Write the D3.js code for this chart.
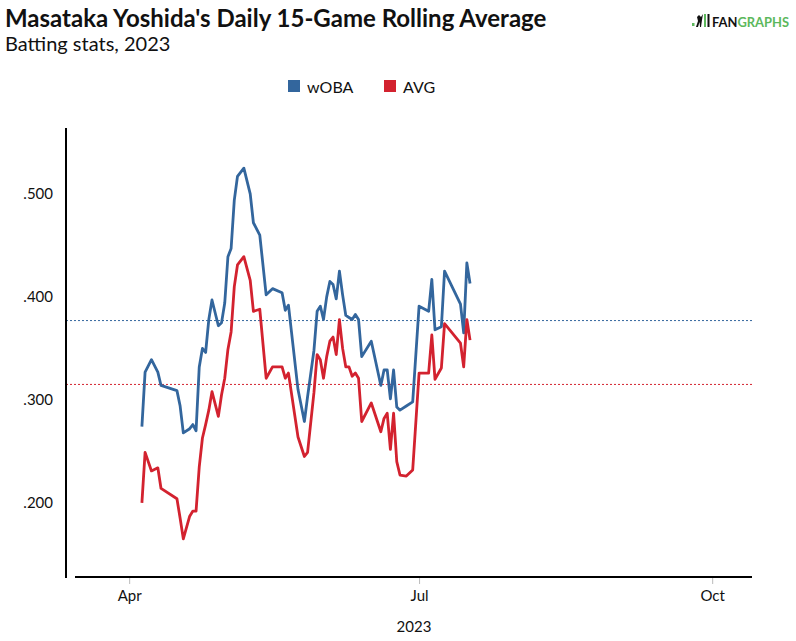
<!DOCTYPE html>
<html>
<head>
<meta charset="utf-8">
<script src="https://cdn.jsdelivr.net/npm/d3@7"></script>
<style>
  html, body { margin: 0; padding: 0; background: #fff; }
  svg { display: block; font-family: Lato, "Open Sans", sans-serif; }
</style>
</head>
<body>
<svg id="chart" width="796" height="641"></svg>
<script>
// ---- data ----
const dates = ["2023-04-05","2023-04-06","2023-04-08","2023-04-10","2023-04-11","2023-04-16","2023-04-17","2023-04-18","2023-04-20","2023-04-21",
"2023-04-22","2023-04-23","2023-04-24","2023-04-25","2023-04-26","2023-04-27","2023-04-29","2023-04-30","2023-05-01","2023-05-02",
"2023-05-03","2023-05-04","2023-05-05","2023-05-07","2023-05-09","2023-05-10","2023-05-12","2023-05-14","2023-05-16","2023-05-19",
"2023-05-20","2023-05-21","2023-05-24","2023-05-26","2023-05-27","2023-05-29","2023-05-30","2023-05-31","2023-06-01","2023-06-02",
"2023-06-03","2023-06-04","2023-06-05","2023-06-06","2023-06-07","2023-06-08","2023-06-09","2023-06-10","2023-06-11","2023-06-12",
"2023-06-13","2023-06-16","2023-06-19","2023-06-20","2023-06-21","2023-06-22","2023-06-23","2023-06-24","2023-06-25","2023-06-27",
"2023-06-29","2023-07-01","2023-07-04","2023-07-05","2023-07-06","2023-07-08","2023-07-09","2023-07-14","2023-07-15","2023-07-16","2023-07-17"];
const woba = [.274,.327,.339,.327,.314,.309,.294,.268,.272,.276,
.270,.332,.350,.346,.378,.397,.372,.375,.394,.439,
.447,.494,.517,.525,.500,.472,.460,.402,.408,.404,
.387,.392,.310,.279,.303,.348,.386,.391,.378,.400,
.415,.412,.398,.425,.402,.382,.380,.378,.383,.378,
.342,.357,.314,.329,.329,.301,.329,.293,.290,.294,
.298,.391,.386,.417,.368,.371,.425,.393,.365,.433,.413];
const avg = [.200,.249,.231,.234,.214,.204,.185,.165,.187,.192,
.192,.235,.263,.276,.290,.308,.284,.305,.321,.349,
.366,.410,.431,.439,.416,.386,.388,.321,.332,.332,
.321,.326,.264,.245,.249,.307,.344,.339,.321,.342,
.357,.361,.344,.378,.350,.332,.332,.323,.326,.321,
.279,.297,.269,.282,.287,.252,.287,.240,.227,.226,
.232,.326,.326,.363,.320,.331,.374,.355,.332,.378,.358];
const seasonWoba = 0.377;
const seasonAvg = 0.315;
const seriesNames = ["wOBA","AVG"];
const seriesColors = ["#33669d","#d3222f"];
const yTicks = [0.2, 0.3, 0.4, 0.5];
const xTickDates = ["2023-04-01","2023-07-01","2023-10-01"];

// ---- chart ----
const svg = d3.select("#chart");
const parse = d3.utcParse("%Y-%m-%d");

const x = d3.scaleUtc()
  .domain([new Date(Date.UTC(2023,2,15)), new Date(Date.UTC(2023,9,13,12))])
  .range([75, 752]);
const y = d3.scaleLinear().domain([0.128, 0.564]).range([577, 128]);

svg.append("rect").attr("width",796).attr("height",641).attr("fill","#fff");

// title
svg.append("text").attr("x",5).attr("y",27)
  .attr("font-size",24).attr("font-weight",700).attr("fill","#111")
  .text("Masataka Yoshida's Daily 15-Game Rolling Average");
svg.append("text").attr("x",5).attr("y",51)
  .attr("font-size",20).attr("fill","#111")
  .text("Batting stats, 2023");

// logo
const logo = svg.append("g").attr("transform","translate(692,13)");
logo.append("rect").attr("x",0).attr("y",10).attr("width",2.5).attr("height",3).attr("fill","#5cb85c");
logo.append("path").attr("d","M4,14 L6,8 L5,4 L7,2 L9,4 L11,1 L10,7 L9,14 L8,14 L7.5,9 L6,14 Z").attr("fill","#111");
logo.append("rect").attr("x",12).attr("y",1).attr("width",2).attr("height",13).attr("fill","#5cb85c");
logo.append("rect").attr("x",15.5).attr("y",1).attr("width",2).attr("height",13).attr("fill","#111");
const lt = logo.append("text").attr("x",20).attr("y",14).attr("font-size",14).attr("font-weight",700)
  .attr("textLength",77).attr("lengthAdjust","spacingAndGlyphs");
lt.append("tspan").attr("fill","#111").text("FAN");
lt.append("tspan").attr("fill","#5cb85c").text("GRAPHS");

// legend
const legX = [288, 384];
seriesNames.forEach((n,i) => {
  svg.append("rect").attr("x",legX[i]).attr("y",80).attr("width",12).attr("height",12).attr("fill",seriesColors[i]);
  svg.append("text").attr("x",legX[i]+19).attr("y",93).attr("font-size",16).attr("fill","#111").text(n);
});

// reference lines
[[seasonWoba,0],[seasonAvg,1]].forEach(([v,i]) => {
  svg.append("line").attr("x1",66).attr("x2",752).attr("y1",y(v)).attr("y2",y(v))
    .attr("stroke",seriesColors[i]).attr("stroke-width",1).attr("stroke-dasharray","2,2");
});

// y axis
svg.append("line").attr("x1",66).attr("x2",66).attr("y1",128).attr("y2",578)
  .attr("stroke","#000").attr("stroke-width",2);
const fmt = v => d3.format(".3f")(v).replace(/^0/,"");
svg.append("g").selectAll("text").data(yTicks).join("text")
  .attr("x",53).attr("y",d => y(d)+5).attr("text-anchor","end")
  .attr("font-size",15).attr("fill","#111").text(fmt);

// x axis
const xAxis = d3.axisBottom(x).tickValues(xTickDates.map(parse))
  .tickFormat(d3.utcFormat("%b")).tickSizeOuter(0).tickSize(7).tickPadding(6);
const gx = svg.append("g").attr("transform","translate(0,577)").call(xAxis);
gx.select(".domain").remove();
gx.selectAll(".tick line").attr("stroke","#bbb");
gx.selectAll(".tick text").attr("font-size",15).attr("font-family","Lato, sans-serif").attr("fill","#111");
svg.append("line").attr("x1",75).attr("x2",752).attr("y1",577).attr("y2",577)
  .attr("stroke","#000").attr("stroke-width",2);
svg.append("text").attr("x",414).attr("y",632).attr("text-anchor","middle")
  .attr("font-size",15).attr("fill","#111").text("2023");

// lines
const pts = dates.map(parse);
[woba, avg].forEach((vals,i) => {
  const line = d3.line().x((d,j) => x(pts[j])).y(d => y(d));
  svg.append("path").datum(vals).attr("d",line)
    .attr("fill","none").attr("stroke",seriesColors[i]).attr("stroke-width",2.8)
    .attr("stroke-linejoin","round");
});
</script>
</body>
</html>
